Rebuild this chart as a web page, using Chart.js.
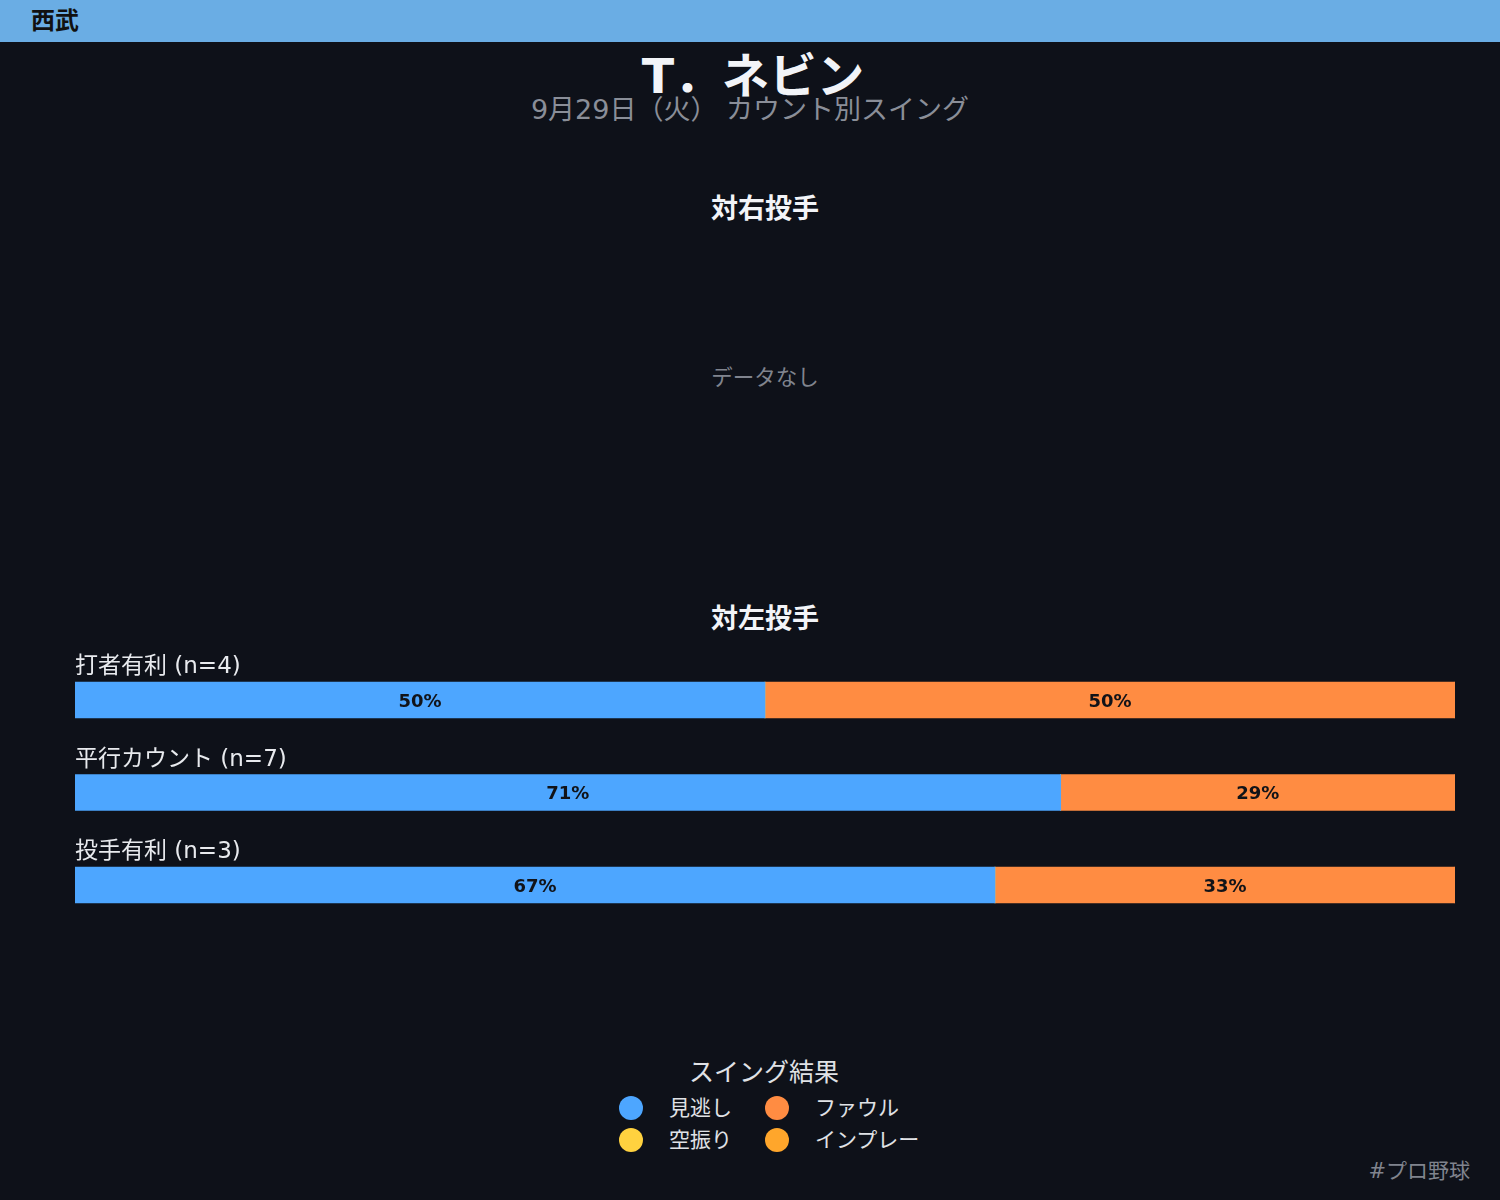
<!DOCTYPE html>
<html>
<head>
<meta charset="utf-8">
<script src="https://cdn.jsdelivr.net/npm/chart.js@4"></script>
<style>
  html,body{margin:0;padding:0;background:#0e1119;width:1500px;height:1200px;overflow:hidden;
    font-family:"DejaVu Sans","Noto Sans CJK JP",sans-serif;}
  .abs{position:absolute;}
  #header{left:0;top:0;width:1500px;height:42px;background:#6aade4;}
  #team{left:31px;top:6px;font-size:24px;font-weight:bold;color:#111;line-height:30px;}
  #title{left:0;width:1506px;top:49px;text-align:center;font-size:47.5px;font-weight:bold;color:#f2f4f8;line-height:56px;}
  #subtitle{left:0;width:1500px;top:92px;text-align:center;font-size:27px;color:#8a8e98;line-height:36px;}
  .sect{left:75px;width:1380px;text-align:center;font-size:27px;font-weight:bold;color:#f2f4f8;line-height:30px;}
  #nodata{left:75px;width:1380px;top:364px;text-align:center;font-size:21.5px;color:#80848e;line-height:28px;}
  #legendTitle{left:0;width:1528px;top:1058px;text-align:center;font-size:25px;color:#e0e2e6;line-height:30px;}
  .lg{font-size:21px;color:#e0e2e6;line-height:28px;}
  .dot{width:24px;height:24px;border-radius:50%;}
  #footer{right:30px;top:1157px;font-size:21px;color:#80848e;line-height:28px;}
</style>
</head>
<body>
<div id="header" class="abs"></div>
<div id="team" class="abs">西武</div>
<div id="title" class="abs">T．ネビン</div>
<div id="subtitle" class="abs">9月29日（火） カウント別スイング</div>

<div class="abs sect" style="top:194px;">対右投手</div>
<div id="nodata" class="abs">データなし</div>

<div class="abs sect" style="top:604px;">対左投手</div>
<div class="abs" style="left:0;top:640px;width:1500px;height:300px;">
  <canvas id="leftChart" width="1500" height="300"></canvas>
</div>

<div id="legendTitle" class="abs">スイング結果</div>
<div id="legend"></div>
<div id="footer" class="abs">#プロ野球</div>

<script>
// ---- data ----
const categories = ["打者有利", "平行カウント", "投手有利"];
const totals = [4, 7, 3];
const lookingCounts = [2, 5, 2];   // 見逃し
const whiffCounts   = [0, 0, 0];   // 空振り
const foulCounts    = [2, 2, 1];   // ファウル
const inplayCounts  = [0, 0, 0];   // インプレー
const resultNames = ["見逃し", "空振り", "ファウル", "インプレー"];
const resultColors = ["#4da6ff", "#ffd23f", "#ff8c42", "#ffa62b"];
const rightPitcherData = [];       // 対右投手: no data

const countsBySeries = [lookingCounts, whiffCounts, foulCounts, inplayCounts];

const datasets = resultNames.map((name, i) => ({
  label: name,
  data: countsBySeries[i].map((c, j) => c / totals[j]),
  backgroundColor: resultColors[i],
  borderWidth: 0,
  barThickness: 36
}));

const rowLabelPlugin = {
  id: 'rowLabels',
  afterDatasetsDraw(chart) {
    const ctx = chart.ctx;
    const meta0 = chart.getDatasetMeta(0);
    ctx.save();
    // row labels
    ctx.font = '23px "DejaVu Sans","Noto Sans CJK JP",sans-serif';
    ctx.fillStyle = '#e8eaee';
    ctx.textAlign = 'left';
    ctx.textBaseline = 'alphabetic';
    meta0.data.forEach((bar, j) => {
      const top = bar.y - bar.height / 2;
      ctx.fillText(categories[j] + ' (n=' + totals[j] + ')', chart.chartArea.left, top - 9);
    });
    // value labels
    ctx.font = 'bold 18px "DejaVu Sans",sans-serif';
    ctx.fillStyle = '#111318';
    ctx.textAlign = 'center';
    ctx.textBaseline = 'middle';
    chart.data.datasets.forEach((ds, i) => {
      const meta = chart.getDatasetMeta(i);
      meta.data.forEach((bar, j) => {
        const v = ds.data[j];
        if (v > 0) {
          const cx = (bar.x + bar.base) / 2;
          ctx.fillText(Math.round(v * 100) + '%', cx, bar.y + 2);
        }
      });
    });
    ctx.restore();
  }
};

new Chart(document.getElementById('leftChart'), {
  type: 'bar',
  data: { labels: categories, datasets },
  options: {
    indexAxis: 'y',
    responsive: false,
    animation: false,
    layout: { padding: { left: 75, right: 45, top: 13.75, bottom: 8.75 } },
    scales: {
      x: { stacked: true, display: false, min: 0, max: 1 },
      y: { stacked: true, display: false }
    },
    plugins: { legend: { display: false }, tooltip: { enabled: false }, title: { display: false } }
  },
  plugins: [rowLabelPlugin]
});

// HTML legend built from series info (2 columns)
const legendEl = document.getElementById('legend');
const colX = [619, 765];
const rowY = [1096, 1128];
const order = [0, 2, 1, 3]; // 見逃し, ファウル / 空振り, インプレー
order.forEach((idx, k) => {
  const col = k % 2, row = Math.floor(k / 2);
  const d = document.createElement('div');
  d.className = 'abs dot';
  d.style.left = colX[col] + 'px';
  d.style.top = rowY[row] + 'px';
  d.style.background = resultColors[idx];
  legendEl.appendChild(d);
  const t = document.createElement('div');
  t.className = 'abs lg';
  t.style.left = (colX[col] + 50) + 'px';
  t.style.top = (rowY[row] - 2) + 'px';
  t.textContent = resultNames[idx];
  legendEl.appendChild(t);
});
</script>
</body>
</html>
